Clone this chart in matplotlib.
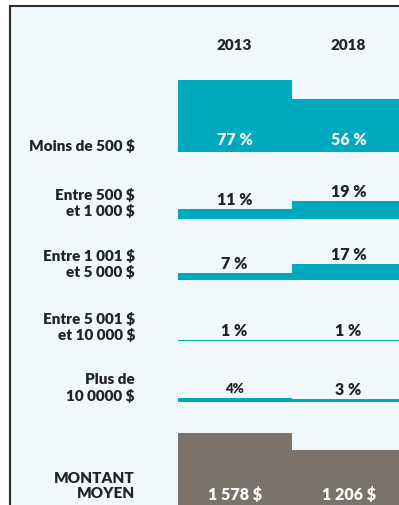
import matplotlib.pyplot as plt
from matplotlib.patches import Rectangle

plt.rcParams['font.family'] = ['Lato', 'DejaVu Sans']

# categories and values
years = ['2013', '2018']
tranches = [
    'Moins de 500 $',
    'Entre 500 $\net 1 000 $',
    'Entre 1 001 $\net 5 000 $',
    'Entre 5 001 $\net 10 000 $',
    'Plus de\n10 0000 $',
]
pct_2013 = [77, 11, 7, 1, 4]
pct_2018 = [56, 19, 17, 1, 3]
pct_text_2013 = ['77 %', '11 %', '7 %', '1 %', '4%']
pct_text_2018 = ['56 %', '19 %', '17 %', '1 %', '3 %']
moyen_label = 'MONTANT\nMOYEN'
moyen = [1578, 1206]
moyen_text = ['1 578 $', '1 206 $']

# layout, in pixels from the top left corner
W, H = 399, 506
TEAL = '#00aabe'
GREY = '#7b736a'
PANEL = '#f1f8fb'
INK = '#232323'
WEIGHT = 'heavy'
col_left, col_width = 177.5, 228
row_base = [152.5, 220, 281, 341.5, 402.5]
row_label_y = [146, 203, 264, 327, 388]
moyen_base, moyen_label_y = 509, 486
px_per_pct = 0.93
px_per_dollar = 0.0477
PT = 72 / 100  # points per pixel at dpi 100


def px_axes(fig, left, top, width, height):
    ax = fig.add_axes([left / W, 1 - (top + height) / H, width / W, height / H])
    ax.set_xlim(0, 2)
    ax.axis('off')
    return ax


fig = plt.figure(figsize=(W / 100, H / 100), dpi=100, facecolor='white')

# framed light panel
fig.add_artist(Rectangle((10 / W, -0.1), 1.2, 1.1 - 7 / H,
                         transform=fig.transFigure, facecolor=PANEL,
                         edgecolor='#2e2e2e', lw=1.5, zorder=0))

# column headers
for i, y in enumerate(years):
    xc = col_left + col_width / 4 * (2 * i + 1)
    fig.text(xc / W, 1 - 45.5 / H, y, ha='center', va='center',
             fontsize=11, fontweight=WEIGHT, color=INK)

# percentage rows
for i, label in enumerate(tranches):
    h = 90
    ax = px_axes(fig, col_left, row_base[i] - h, col_width, h)
    ax.set_ylim(0, h / px_per_pct)
    vals = [pct_2013[i], pct_2018[i]]
    texts = [pct_text_2013[i], pct_text_2018[i]]
    ax.bar([0.5, 1.5], vals, width=1.0, color=TEAL, lw=0)
    for x, v, t in zip([0.5, 1.5], vals, texts):
        size = 9.5 if t == '4%' else 11.5
        if i == 0:
            ax.annotate(t, (x, 0), xytext=(0, 12 * PT), textcoords='offset points',
                        ha='center', va='center', fontsize=size,
                        fontweight=WEIGHT, color='#f4f4f4')
        else:
            ax.annotate(t, (x, v), xytext=(0, 10 * PT), textcoords='offset points',
                        ha='center', va='center', fontsize=size,
                        fontweight=WEIGHT, color=INK)
    fig.text(135 / W, 1 - row_label_y[i] / H, label, ha='right', va='center',
             multialignment='right', linespacing=1.2,
             fontsize=11, fontweight=WEIGHT, color=INK)

# average amount row
h = 100
ax = px_axes(fig, col_left, moyen_base - h, col_width, h)
ax.set_ylim(0, h / px_per_dollar)
ax.bar([0.5, 1.5], moyen, width=1.0, color=GREY, lw=0)
for x, t in zip([0.5, 1.5], moyen_text):
    ax.annotate(t, (x, 0), xytext=(0, 14 * PT), textcoords='offset points',
                ha='center', va='center', fontsize=11.5,
                fontweight=WEIGHT, color='white')
fig.text(135 / W, 1 - moyen_label_y / H, moyen_label, ha='right', va='center',
         multialignment='right', linespacing=1.2,
         fontsize=11, fontweight=WEIGHT, color=INK)

fig.savefig('out.png', dpi=100)
